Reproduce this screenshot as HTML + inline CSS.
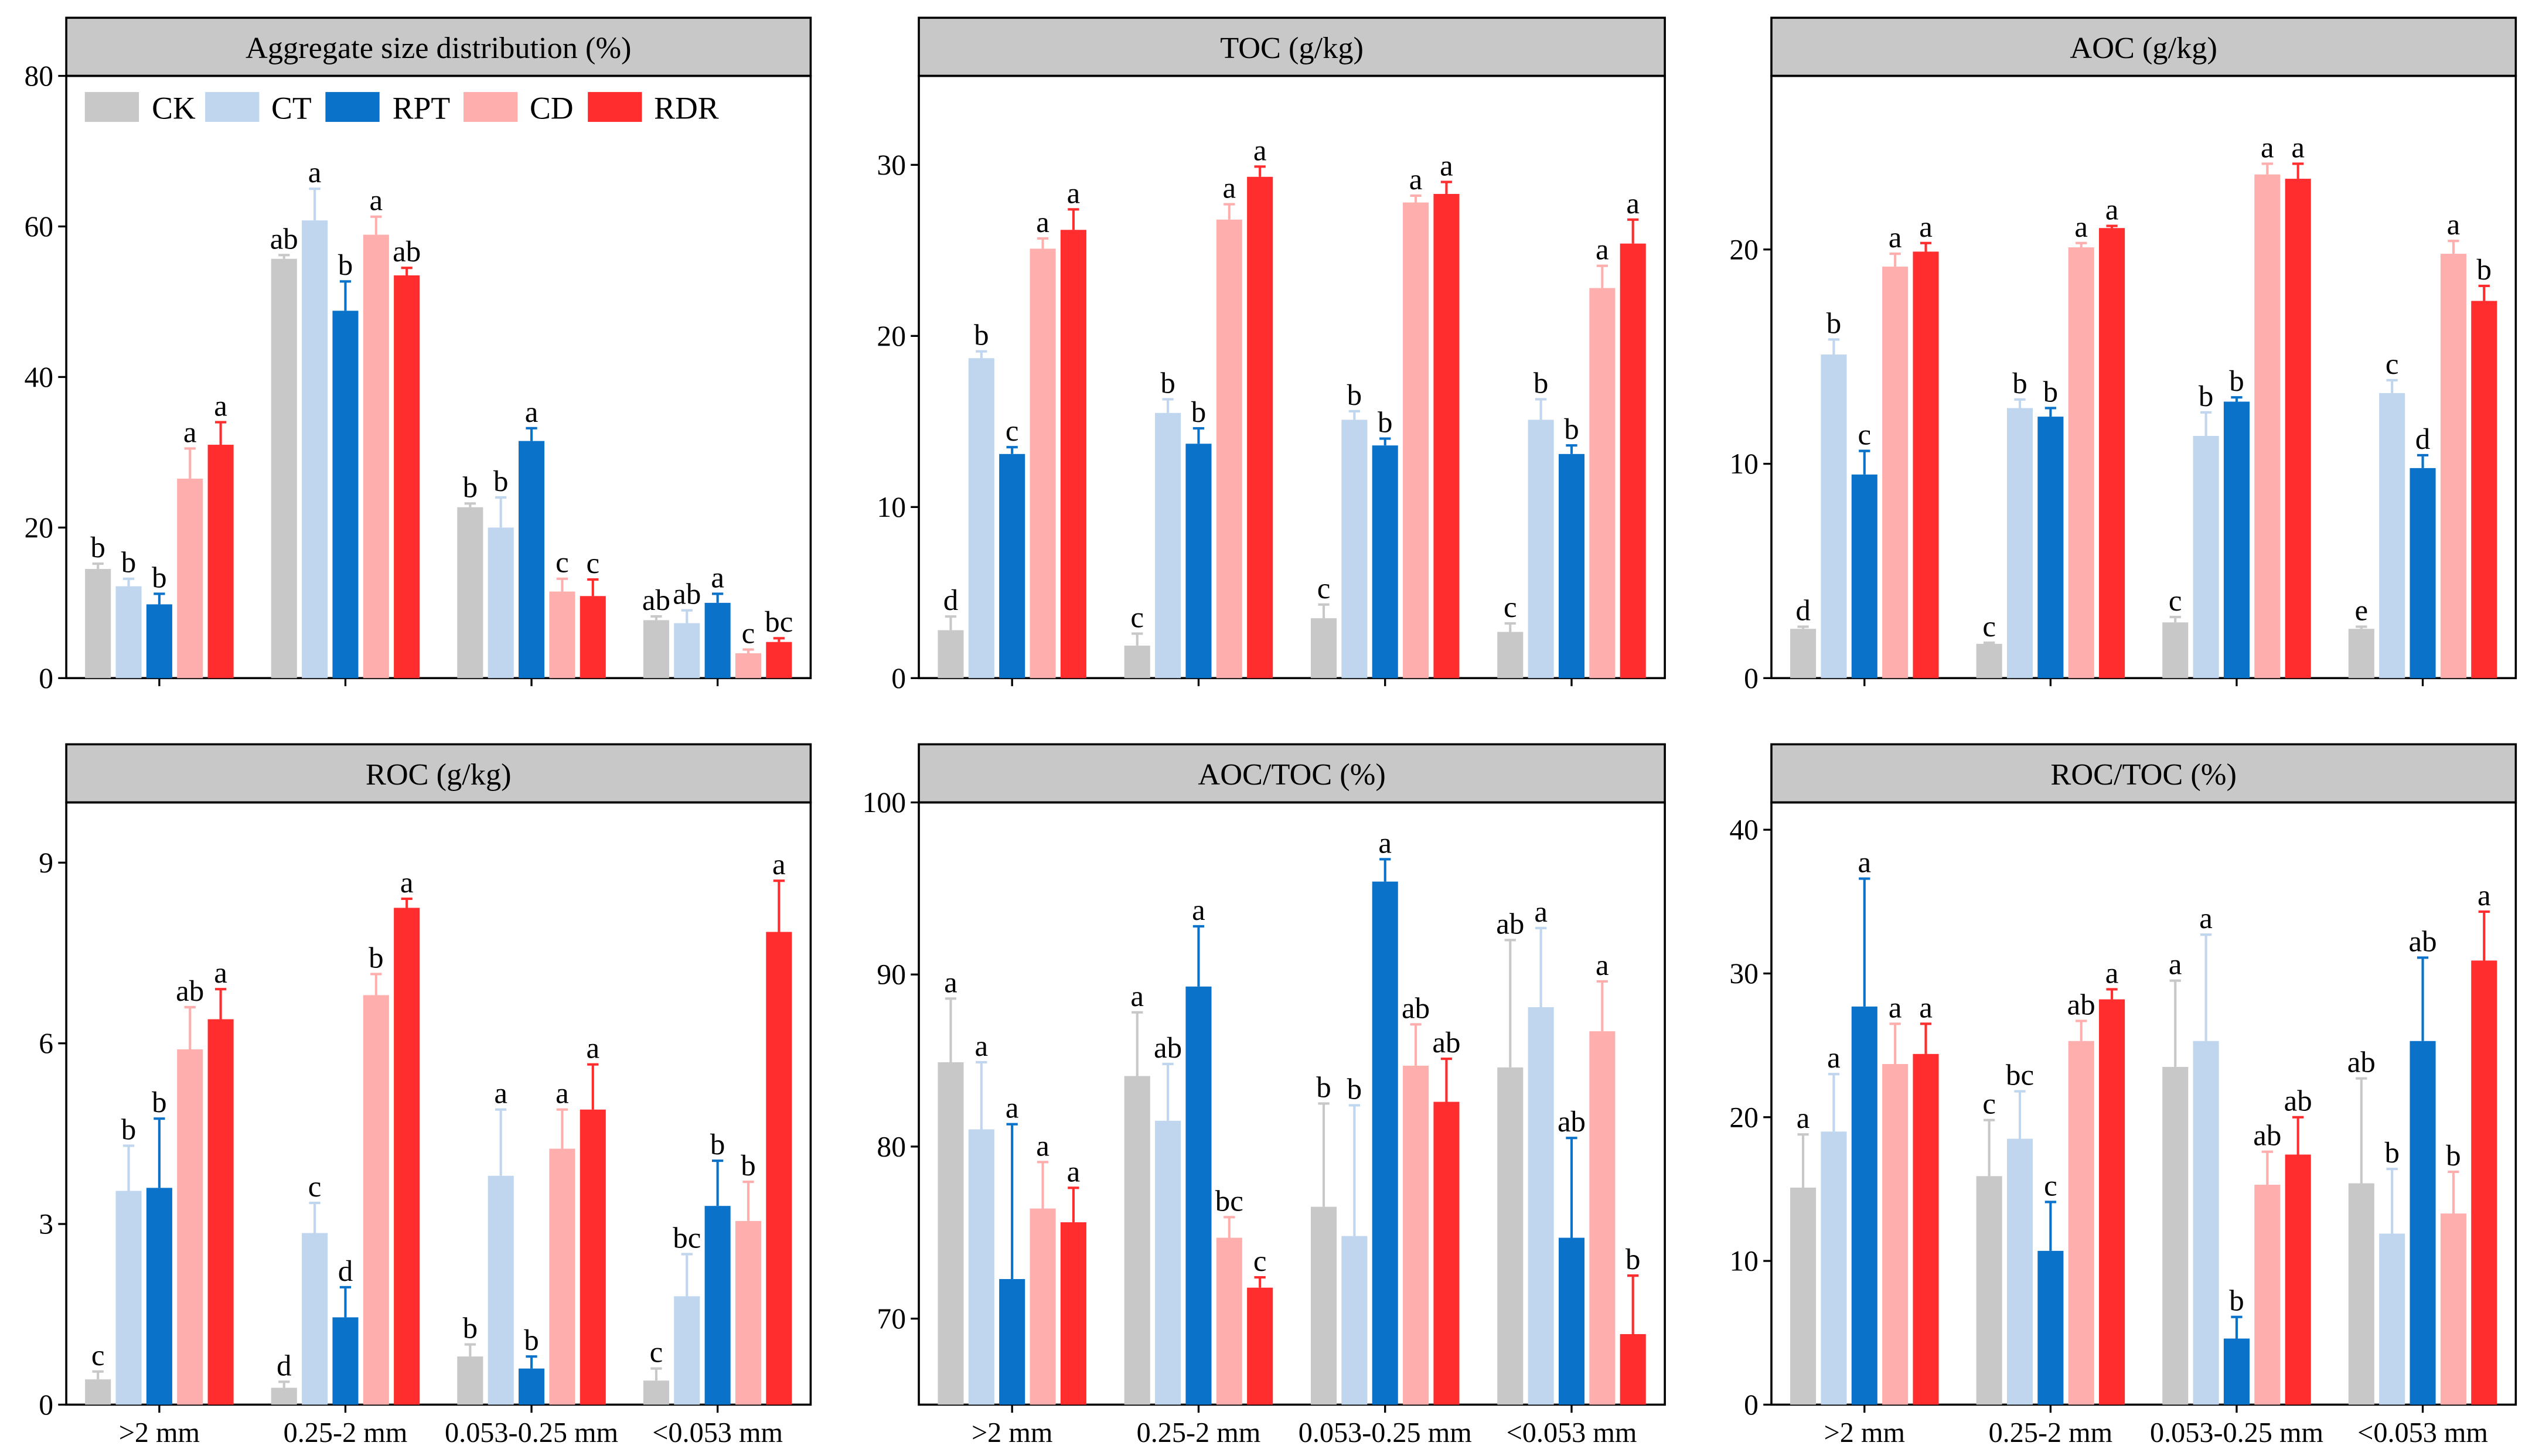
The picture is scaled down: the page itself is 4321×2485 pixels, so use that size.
<!DOCTYPE html>
<html><head><meta charset="utf-8"><style>
html,body{margin:0;padding:0;background:#fff}
svg{display:block}
svg text{font-family:"Liberation Serif","DejaVu Serif",serif;fill:#000}
</style></head><body>
<svg id="fig" width="4321" height="2485" viewBox="0 0 1568 901.8" xmlns="http://www.w3.org/2000/svg" font-family="Liberation Serif, DejaVu Serif, serif"></svg>
<script>
const categories = [">2 mm","0.25-2 mm","0.053-0.25 mm","<0.053 mm"];
const treatments = ["CK","CT","RPT","CD","RDR"];
const colors = ["#c8c8c8","#c0d5ee","#0a72c9","#ffaeae","#ff2d2d"];

const aggTitle = "Aggregate size distribution (%)";
const aggTicks = [0,20,40,60,80];
const aggVals = [[14.5,12.2,9.8,26.5,31],[55.7,60.8,48.8,58.9,53.5],[22.7,20,31.5,11.5,10.9],[7.7,7.3,10,3.3,4.8]];
const aggErr = [[15.2,13.2,11.2,30.5,34],[56.2,65,52.7,61.3,54.5],[23.2,24,33.2,13.2,13.1],[8.2,9,11.2,3.8,5.3]];
const aggLet = [["b","b","b","a","a"],["ab","a","b","a","ab"],["b","b","a","c","c"],["ab","ab","a","c","bc"]];

const tocTitle = "TOC (g/kg)";
const tocTicks = [0,10,20,30];
const tocVals = [[2.8,18.7,13.1,25.1,26.2],[1.9,15.5,13.7,26.8,29.3],[3.5,15.1,13.6,27.8,28.3],[2.7,15.1,13.1,22.8,25.4]];
const tocErr = [[3.6,19.1,13.5,25.7,27.4],[2.6,16.3,14.6,27.7,29.9],[4.3,15.6,14,28.2,29],[3.2,16.3,13.6,24.1,26.8]];
const tocLet = [["d","b","c","a","a"],["c","b","b","a","a"],["c","b","b","a","a"],["c","b","b","a","a"]];

const aocTitle = "AOC (g/kg)";
const aocTicks = [0,10,20];
const aocVals = [[2.3,15.1,9.5,19.2,19.9],[1.6,12.6,12.2,20.1,21],[2.6,11.3,12.9,23.5,23.3],[2.3,13.3,9.8,19.8,17.6]];
const aocErr = [[2.4,15.8,10.6,19.8,20.3],[1.65,13,12.6,20.3,21.1],[2.85,12.4,13.1,24,24],[2.4,13.9,10.4,20.4,18.3]];
const aocLet = [["d","b","c","a","a"],["c","b","b","a","a"],["c","b","b","a","a"],["e","c","d","a","b"]];

const rocTitle = "ROC (g/kg)";
const rocTicks = [0,3,6,9];
const rocVals = [[0.42,3.55,3.6,5.9,6.4],[0.28,2.85,1.45,6.8,8.25],[0.8,3.8,0.6,4.25,4.9],[0.4,1.8,3.3,3.05,7.85]];
const rocErr = [[0.55,4.3,4.75,6.6,6.9],[0.38,3.35,1.95,7.15,8.4],[1.0,4.9,0.8,4.9,5.65],[0.6,2.5,4.05,3.7,8.7]];
const rocLet = [["c","b","b","ab","a"],["d","c","d","b","a"],["b","a","b","a","a"],["c","bc","b","b","a"]];

const aratTitle = "AOC/TOC (%)";
const aratTicks = [70,80,90,100];
const aratVals = [[84.9,81,72.3,76.4,75.6],[84.1,81.5,89.3,74.7,71.8],[76.5,74.8,95.4,84.7,82.6],[84.6,88.1,74.7,86.7,69.1]];
const aratErr = [[88.6,84.9,81.3,79.1,77.6],[87.8,84.8,92.8,75.9,72.4],[82.5,82.4,96.7,87.1,85.1],[92,92.7,80.5,89.6,72.5]];
const aratLet = [["a","a","a","a","a"],["a","ab","a","bc","c"],["b","b","a","ab","ab"],["ab","a","ab","a","b"]];

const rratTitle = "ROC/TOC (%)";
const rratTicks = [0,10,20,30,40];
const rratVals = [[15.1,19,27.7,23.7,24.4],[15.9,18.5,10.7,25.3,28.2],[23.5,25.3,4.6,15.3,17.4],[15.4,11.9,25.3,13.3,30.9]];
const rratErr = [[18.8,23,36.6,26.5,26.5],[19.8,21.8,14.1,26.7,28.9],[29.5,32.7,6.1,17.6,20],[22.7,16.4,31.1,16.2,34.3]];
const rratLet = [["a","a","a","a","a"],["c","bc","c","ab","a"],["a","a","b","ab","ab"],["ab","b","ab","b","a"]];

const NS="http://www.w3.org/2000/svg";
const FF="Liberation Serif, DejaVu Serif, serif";
const svg=document.getElementById('fig');
function mk(tag,attrs,parent,txt){const e=document.createElementNS(NS,tag);for(const k in attrs)e.setAttribute(k,attrs[k]);if(txt!==undefined){e.textContent=txt;e.setAttribute('font-family',FF);}parent.appendChild(e);return e;}

function panel(o){
  const g=mk('g',{},svg);
  
  
  const L=o.x0,R=o.x1,T=o.top,H=o.top+36,B=o.top+409;
  const y=v=>B-(v-o.min)/(o.max-o.min)*(B-H);
  const hdr=mk('rect',{x:L,y:T,width:R-L,height:36,fill:'#c8c8c8',stroke:'#000','stroke-width':1.3},g);
  
  
  const ht=mk('text',{x:(L+R)/2,y:T+25,'font-size':19,'text-anchor':'middle'},g,o.title);
  
  
  mk('rect',{x:L,y:H,width:R-L,height:B-H,fill:'none',stroke:'#000','stroke-width':1.3},g);
  o.ticks.forEach(t=>{
    const yy=y(t);
    mk('line',{x1:L-5,x2:L,y1:yy,y2:yy,stroke:'#000','stroke-width':1.2},g);
    const tl=mk('text',{x:L-8,y:yy+6,'font-size':18,'text-anchor':'end'},g,t);
    
    
  });
  const gw=(R-L)/4;
  categories.forEach((c,i)=>{
    const cx=L+gw*(i+0.5);
    mk('line',{x1:cx,x2:cx,y1:B,y2:B+5,stroke:'#000','stroke-width':1.2},g);
    if(o.labels){
      const xl=mk('text',{x:cx,y:B+23,'font-size':17.5,'text-anchor':'middle'},g,c);
      
      
    }
    treatments.forEach((tr,j)=>{
      const bx=cx+(j-2)*19;
      const v=o.vals[i][j],e=o.err[i][j];
      const r=mk('rect',{x:bx-8,y:y(v),width:16,height:B-y(v),fill:colors[j]},g);
      
      
      mk('line',{x1:bx,x2:bx,y1:y(v),y2:y(e),stroke:colors[j],'stroke-width':1.5},g);
      mk('line',{x1:bx-3.5,x2:bx+3.5,y1:y(e),y2:y(e),stroke:colors[j],'stroke-width':1.5},g);
      const lt=mk('text',{x:bx,y:y(e)-4,'font-size':18.5,'text-anchor':'middle'},g,o.lets[i][j]);
      
      
    });
  });
}

panel({name:'aggregate-panel',x0:41,x1:502,top:11,min:0,max:80,ticks:aggTicks,title:aggTitle,vals:aggVals,err:aggErr,lets:aggLet,labels:false});
panel({name:'toc-panel',x0:569,x1:1031,top:11,min:0,max:35.2,ticks:tocTicks,title:tocTitle,vals:tocVals,err:tocErr,lets:tocLet,labels:false});
panel({name:'aoc-panel',x0:1097,x1:1558,top:11,min:0,max:28.1,ticks:aocTicks,title:aocTitle,vals:aocVals,err:aocErr,lets:aocLet,labels:false});
panel({name:'roc-panel',x0:41,x1:502,top:461,min:0,max:10,ticks:rocTicks,title:rocTitle,vals:rocVals,err:rocErr,lets:rocLet,labels:true});
panel({name:'aoc-toc-panel',x0:569,x1:1031,top:461,min:65,max:100,ticks:aratTicks,title:aratTitle,vals:aratVals,err:aratErr,lets:aratLet,labels:true});
panel({name:'roc-toc-panel',x0:1097,x1:1558,top:461,min:0,max:41.9,ticks:rratTicks,title:rratTitle,vals:rratVals,err:rratErr,lets:rratLet,labels:true});

const lg=mk('g',{},svg);


const legX=[[52.5,94],[127,168],[201.5,243],[287,328],[364,405]];
treatments.forEach((t,j)=>{
  const r=mk('rect',{x:legX[j][0],y:57,width:33.5,height:18.5,fill:colors[j]},lg);
  
  
  const tx=mk('text',{x:legX[j][1],y:73.5,'font-size':19.5},lg,t);
  
  
});
</script>
</body></html>
